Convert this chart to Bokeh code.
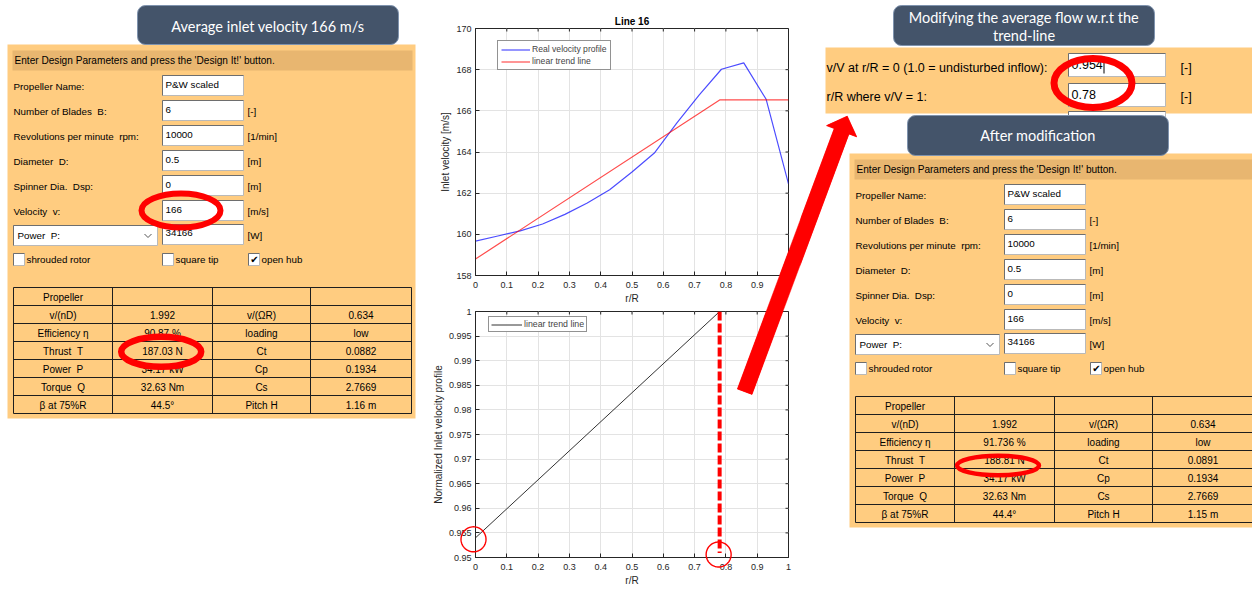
import math
from bokeh.plotting import figure
from bokeh.layouts import row, column
from bokeh.models import Range1d, FixedTicker, Legend, LegendItem, PolyAnnotation
from bokeh.core.properties import value
from bokeh.embed import file_html
from bokeh.resources import INLINE

# ---------------- data ----------------
r_profile = [0.0, 0.0714, 0.1429, 0.2143, 0.2857, 0.3571, 0.4286, 0.5, 0.5714, 0.6429, 0.7143, 0.7857, 0.8571, 0.9286, 1.0]
v_profile = [159.67, 159.92, 160.17, 160.5, 160.97, 161.52, 162.17, 163.03, 163.95, 165.4, 166.76, 168.02, 168.33, 166.56, 162.45]
trend_r = [0.0, 0.78, 1.0]
trend_v = [158.8, 166.53, 166.53]
norm_r = [0.0, 0.78, 1.0]
norm_v = [0.954, 1.0, 1.0]
r_where = 0.78

r_ticks = [0.0, 0.1, 0.2, 0.3, 0.4, 0.5, 0.6, 0.7, 0.8, 0.9, 1.0]
r_tick_labels = ["0", "0.1", "0.2", "0.3", "0.4", "0.5", "0.6", "0.7", "0.8", "0.9", "1"]
v_ticks = [158, 160, 162, 164, 166, 168, 170]
v_tick_labels = ["158", "160", "162", "164", "166", "168", "170"]
n_ticks = [0.95, 0.955, 0.96, 0.965, 0.97, 0.975, 0.98, 0.985, 0.99, 0.995, 1.0]
n_tick_labels = ["0.95", "0.955", "0.96", "0.965", "0.97", "0.975", "0.98", "0.985", "0.99", "0.995", "1"]

NB = "\u00a0"
header_text = "Enter Design Parameters and press the 'Design It!' button."
form_labels = ["Propeller Name:", "Number of Blades " + NB + "B:", "Revolutions per minute " + NB + "rpm:",
               "Diameter " + NB + "D:", "Spinner Dia. " + NB + "Dsp:", "Velocity " + NB + "v:"]
form_values = ["P&W scaled", "6", "10000", "0.5", "0", "166"]
form_units = ["", "[-]", "[1/min]", "[m]", "[m]", "[m/s]"]
power_label = "Power " + NB + "P:"
power_value = "34166"
power_unit = "[W]"
check_labels = ["shrouded rotor", "square tip", "open hub"]
check_states = [False, False, True]

table_before = [
    ["Propeller", "", "", ""],
    ["v/(nD)", "1.992", "v/(\u03a9R)", "0.634"],
    ["Efficiency \u03b7", "90.87 %", "loading", "low"],
    ["Thrust " + NB + "T", "187.03 N", "Ct", "0.0882"],
    ["Power " + NB + "P", "34.17 kW", "Cp", "0.1934"],
    ["Torque " + NB + "Q", "32.63 Nm", "Cs", "2.7669"],
    ["\u03b2 at 75%R", "44.5\u00b0", "Pitch H", "1.16 m"],
]
table_after = [
    ["Propeller", "", "", ""],
    ["v/(nD)", "1.992", "v/(\u03a9R)", "0.634"],
    ["Efficiency \u03b7", "91.736 %", "loading", "low"],
    ["Thrust " + NB + "T", "188.81 N", "Ct", "0.0891"],
    ["Power " + NB + "P", "34.17 kW", "Cp", "0.1934"],
    ["Torque " + NB + "Q", "32.63 Nm", "Cs", "2.7669"],
    ["\u03b2 at 75%R", "44.4\u00b0", "Pitch H", "1.15 m"],
]

title_left = ["Average inlet velocity 166 m/s"]
title_mod = ["Modifying the average flow w.r.t the", "trend-line"]
title_after = ["After modification"]
mod_labels = ["v/V at r/R = 0 (1.0 = undisturbed inflow):", "r/R where v/V = 1:"]
mod_values = ["0.954", "0.78"]

# ---------------- style ----------------
FONT = "Liberation Sans"
ORANGE = "#FFCC80"
HEADER = "#E8B670"
SLATE = "#44546A"
RED = "#FF0000"
INK = "#262626"


def deco_fig(x0, width, height=590, overlay=False):
    kw = {}
    if overlay:
        kw["styles"] = {"position": "absolute", "left": "0px", "top": "0px", "z-index": "20",
                        "pointer-events": "none"}
    p = figure(width=width, height=height, x_range=Range1d(x0, x0 + width), y_range=Range1d(height, 0),
               x_axis_type=None, y_axis_type=None, output_backend="svg", toolbar_location=None,
               min_border=0, outline_line_color=None, **kw)
    if overlay:
        p.background_fill_color = None
        p.border_fill_color = None
    else:
        p.background_fill_color = "white"
        p.border_fill_color = "white"
    return p


def txt(p, xs, ys, texts, size="9.8px", align="left", color="black", font=FONT, style="normal"):
    p.text(x=xs, y=ys, text=texts, text_font=value(font), text_font_size=size,
           text_align=align, text_baseline="middle", text_color=color, text_font_style=style)


def box(p, l, r, t, b):
    p.quad(left=[l], right=[r], top=[t], bottom=[b], fill_color="white", line_color="#B9B9B9", line_width=1)
    p.line([l, l, r], [b, t, t], line_color="#6E6E6E", line_width=1)


def title_box(p, l, r, t, b, lines, ys):
    p.quad(left=[l], right=[r], top=[t], bottom=[b], fill_color=SLATE, line_color="#7F93AE",
           line_width=1, border_radius=8)
    txt(p, [(l + r) / 2] * len(lines), ys, lines, size="14.5px", align="center", color="white", font="Lato")


def draw_panel(p, dx, dy, table):
    p.quad(left=[7 + dx], right=[415 + dx], top=[44 + dy], bottom=[418 + dy], fill_color=ORANGE, line_color=None)
    p.quad(left=[12 + dx], right=[412 + dx], top=[50 + dy], bottom=[70 + dy], fill_color=HEADER, line_color=None)
    txt(p, [14 + dx], [60 + dy], [header_text], size="10.1px")
    row_y = [86, 111, 136, 161, 186, 211]
    for i in range(len(form_labels)):
        y = row_y[i] + dy
        box(p, 162 + dx, 243 + dx, y - 11, y + 9)
    txt(p, [13 + dx] * 6, [y + dy for y in row_y], form_labels)
    txt(p, [165 + dx] * 6, [y + dy - 2 for y in row_y], form_values)
    txt(p, [247 + dx] * 6, [y + dy for y in row_y], form_units)
    # power row
    y = 235 + dy
    box(p, 13 + dx, 157 + dx, y - 10, y + 10)
    txt(p, [17 + dx], [y], [power_label])
    p.line([144 + dx, 147.5 + dx, 151 + dx], [y - 1.5, y + 2, y - 1.5], line_color="#555555", line_width=1)
    box(p, 162 + dx, 243 + dx, y - 11, y + 9)
    txt(p, [165 + dx], [y - 3], [power_value])
    txt(p, [247 + dx], [y], [power_unit])
    # check boxes
    y = 259 + dy
    for cx, lab, st in zip([13, 162, 248], check_labels, check_states):
        box(p, cx + dx, cx + 11 + dx, y - 6, y + 6)
        txt(p, [cx + 13 + dx], [y], [lab])
        if st:
            txt(p, [cx + 6 + dx], [y], ["\u2714"], size="10px", align="center", font="DejaVu Sans")
    # result table
    xs = [13, 112, 212, 310, 411]
    yt, h = 287, 18
    n = len(table)
    p.segment(x0=[xs[0] + dx] * (n + 1), x1=[xs[-1] + dx] * (n + 1),
              y0=[yt + k * h + dy for k in range(n + 1)], y1=[yt + k * h + dy for k in range(n + 1)],
              line_color="#1E1E1E", line_width=1)
    p.segment(x0=[x + dx for x in xs], x1=[x + dx for x in xs],
              y0=[yt + dy] * len(xs), y1=[yt + n * h + dy] * len(xs), line_color="#1E1E1E", line_width=1)
    cx, cy, ct = [], [], []
    for k, rw in enumerate(table):
        for j, cell in enumerate(rw):
            if cell:
                cx.append((xs[j] + xs[j + 1]) / 2 + dx)
                cy.append(yt + k * h + h / 2 + dy + 0.5)
                ct.append(cell)
    txt(p, cx, cy, ct, size="10px", align="center")


def ring(p, x, y, w, h, lw):
    p.ellipse(x=[x], y=[y], width=[w], height=[h], fill_alpha=0, line_color=RED, line_width=lw)


# big arrow (page pixel geometry)
ARROW_TAIL = (744.2, 391.2)
ARROW_TIP = (846.7, 115.7)


def arrow_poly():
    tx, ty = ARROW_TAIL
    px, py = ARROW_TIP
    L = math.hypot(px - tx, py - ty)
    ux, uy = (px - tx) / L, (py - ty) / L
    nx, ny = -uy, ux
    w, hw, hl = 7.8, 16.0, 16.0
    bx, by = px - hl * ux, py - hl * uy
    pts = [(tx - w * nx, ty - w * ny), (bx - w * nx, by - w * ny), (bx - hw * nx, by - hw * ny), (px, py),
           (bx + hw * nx, by + hw * ny), (bx + w * nx, by + w * ny), (tx + w * nx, ty + w * ny)]
    return [q[0] for q in pts], [q[1] for q in pts]


AX, AY = arrow_poly()


def circle_pts(cx, cy, r, n=60):
    return ([cx + r * math.cos(2 * math.pi * k / n) for k in range(n)],
            [cy + r * math.sin(2 * math.pi * k / n) for k in range(n)])


# ---------------- left panel ----------------
left = deco_fig(0, 420)
draw_panel(left, 0, 0, table_before)
title_box(left, 137, 398, 5, 44, title_left, [25.5])
ring(left, 180.5, 210, 79, 34, 6)
ring(left, 160.7, 351.3, 80, 30, 6.5)

# ---------------- right panel ----------------
right = deco_fig(800, 452)
right.quad(left=[825], right=[1252], top=[47], bottom=[113], fill_color=ORANGE, line_color=None)
txt(right, [826, 826], [67, 96], mod_labels, size="12.5px")
box(right, 1068, 1165, 53, 76)
box(right, 1068, 1165, 83, 106)
box(right, 1068, 1165, 111, 134)
txt(right, [1071, 1071], [64, 94], mod_values, size="12.5px")
right.segment(x0=[1103.5], x1=[1103.5], y0=[56], y1=[73], line_color="black", line_width=1)
txt(right, [1180, 1180], [67, 96], ["[-]", "[-]"], size="12.5px")
draw_panel(right, 842, 109, table_after)
title_box(right, 893, 1154, 5, 45, title_mod, [16.5, 35])
title_box(right, 907, 1168, 115, 155, title_after, [135])
ring(right, 1092.5, 82.5, 78, 49, 7)
ring(right, 997.5, 465, 82, 19.5, 4.5)
right.patch(AX, AY, fill_color=RED, line_color=RED, line_width=0.5)

# ---------------- charts ----------------
FR_L, FR_R = 475.0, 788.0


def chart(height, y0, y1, yticks, ylabels, ylabel, mtop, mbot):
    p = figure(width=380, height=height, x_range=Range1d(0, 1), y_range=Range1d(y0, y1),
               output_backend="svg", toolbar_location=None,
               min_border_left=55, min_border_right=12, min_border_top=mtop, min_border_bottom=mbot)
    p.outline_line_color = INK
    p.background_fill_color = "white"
    p.border_fill_color = "white"
    xt = FixedTicker(ticks=r_ticks)
    yt = FixedTicker(ticks=yticks)
    p.xaxis.ticker = xt
    p.yaxis.ticker = yt
    p.xaxis.major_label_overrides = dict(zip(r_ticks, r_tick_labels))
    p.yaxis.major_label_overrides = dict(zip(yticks, ylabels))
    p.xgrid.ticker = xt
    p.ygrid.ticker = yt
    p.grid.grid_line_color = "#E3E3E3"
    p.axis.major_tick_in = 4
    p.axis.major_tick_out = 0
    p.axis.minor_tick_line_color = None
    p.axis.axis_line_color = INK
    p.axis.major_tick_line_color = INK
    p.axis.major_label_text_font = FONT
    p.axis.major_label_text_font_size = "9px"
    p.axis.major_label_text_color = INK
    p.axis.axis_label_text_font = FONT
    p.axis.axis_label_text_font_size = "10px"
    p.axis.axis_label_text_font_style = "normal"
    p.axis.axis_label_text_color = INK
    p.axis.axis_label_standoff = 2
    p.xaxis.major_label_standoff = 6
    p.yaxis.major_label_standoff = 4
    p.xaxis.axis_label = "r/R"
    p.yaxis.axis_label = ylabel
    return p


def box_ticks(p, y0, y1, yticks, frame_w, frame_h):
    # inward tick marks on the top and right edges of the box (MATLAB style)
    dy = 3.0 / frame_h * (y1 - y0)
    dx = 3.0 / frame_w
    p.segment(x0=r_ticks, x1=r_ticks, y0=[y1] * len(r_ticks), y1=[y1 - dy] * len(r_ticks),
              line_color=INK, line_width=1)
    p.segment(x0=[1.0] * len(yticks), x1=[1.0 - dx] * len(yticks), y0=yticks, y1=yticks,
              line_color=INK, line_width=1)


# top chart
T_TOP, T_BOT = 28.0, 275.0
top = chart(306, 158, 170, v_ticks, v_tick_labels, "Inlet velocity [m/s]", 28, 31)
top.title.text = "Line 16"
top.title.align = "center"
top.title.text_font = FONT
top.title.text_font_size = "10px"
top.title.text_font_style = "bold"
top.title.text_color = "black"
top.title.standoff = 3
box_ticks(top, 158, 170, v_ticks, FR_R - FR_L, T_BOT - T_TOP)
rb = top.line(r_profile, v_profile, line_color="#0000FF", line_alpha=0.7, line_width=1.2)
rr = top.line(trend_r, trend_v, line_color="#FF0000", line_alpha=0.7, line_width=1.2)
leg1 = Legend(items=[LegendItem(label="Real velocity profile", renderers=[rb]),
                     LegendItem(label="linear trend line", renderers=[rr])],
              location=(22, 205), label_text_font=FONT, label_text_font_size="8.6px",
              glyph_width=29, glyph_height=9, label_height=9, spacing=2, padding=3, margin=0,
              label_standoff=2, border_line_color=INK, border_line_width=1, background_fill_color="white")
top.add_layout(leg1)


def top_map(xs, ys):
    return ([(x - FR_L) / (FR_R - FR_L) for x in xs],
            [170 - (y - T_TOP) / (T_BOT - T_TOP) * 12 for y in ys])


tx, ty = top_map(AX, AY)
top.add_layout(PolyAnnotation(xs=tx, ys=ty, fill_color=RED, fill_alpha=1, line_color=RED, line_width=0.5))

# bottom chart
B_TOP, B_BOT = 311.0, 557.0
bot = chart(284, 0.95, 1.0, n_ticks, n_tick_labels, "Normalized Inlet velocity profile", 5, 33)
box_ticks(bot, 0.95, 1.0, n_ticks, FR_R - FR_L, B_BOT - B_TOP)
rk = bot.line(norm_r, norm_v, line_color="#333333", line_width=1)
leg2 = Legend(items=[LegendItem(label="linear trend line", renderers=[rk])],
              location=(13, 225), label_text_font=FONT, label_text_font_size="8.8px",
              glyph_width=31, glyph_height=9, label_height=9, spacing=0, padding=2, margin=0,
              label_standoff=2, border_line_color=INK, border_line_width=1, background_fill_color="white")
bot.add_layout(leg2)
bot.segment(x0=[r_where], x1=[r_where], y0=[1.0], y1=[0.9509], line_color=RED, line_width=4, line_dash="9 3")


def bot_map(xs, ys):
    return ([(x - FR_L) / (FR_R - FR_L) for x in xs],
            [1.0 - (y - B_TOP) / (B_BOT - B_TOP) * 0.05 for y in ys])


bx, by = bot_map(AX, AY)
bot.add_layout(PolyAnnotation(xs=bx, ys=by, fill_color=RED, fill_alpha=1, line_color=RED, line_width=0.5))

# ---------------- overlay (arrow and circles drawn above everything) ----------------
ov = deco_fig(0, 1252, 590, overlay=True)
c0x = FR_L + norm_r[0] * (FR_R - FR_L) - 2
c0y = B_TOP + (1.0 - norm_v[0]) / 0.05 * (B_BOT - B_TOP) + 1.5
c1x = FR_L + r_where * (FR_R - FR_L) - 1
for (cx, cy) in [(c0x, c0y), (c1x, 554.0)]:
    px, py = circle_pts(cx, cy, 12.5)
    ov.patch(px + [px[0]], py + [py[0]], fill_alpha=0, line_color=RED, line_width=1.4)
ov.patch(AX, AY, fill_color=RED, line_color=RED, line_width=0.5)

layout = row(left, column(top, bot), right, ov)
open("out.html", "w").write(file_html(layout, INLINE))
